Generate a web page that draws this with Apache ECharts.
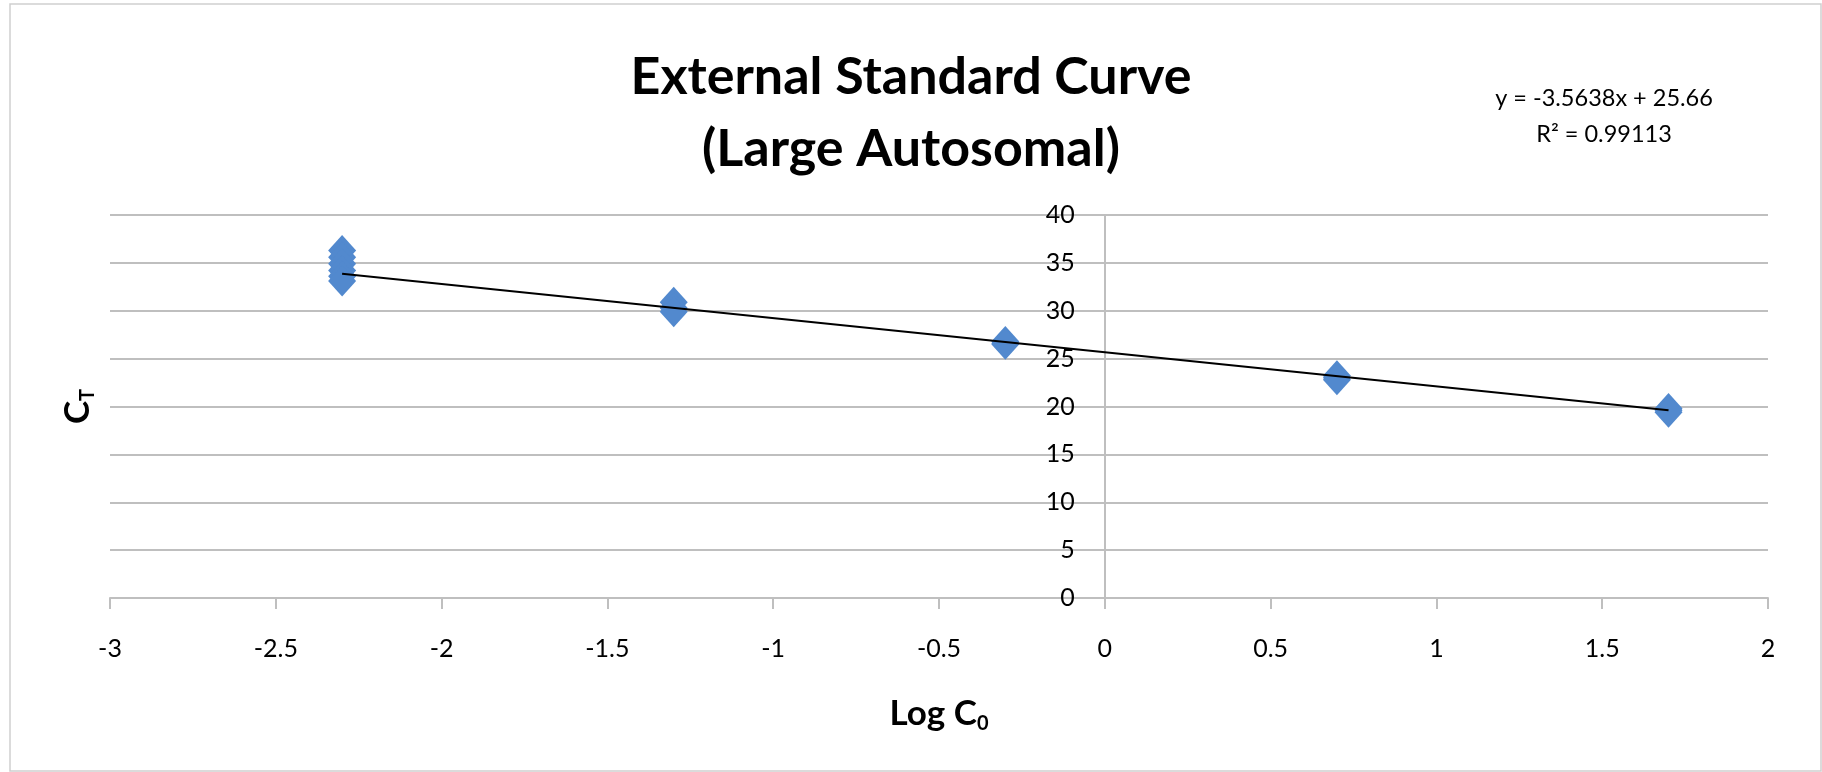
<!DOCTYPE html>
<html>
<head>
    <meta charset="utf-8">
    <title>External Standard Curve</title>
    <script src="https://cdn.jsdelivr.net/npm/echarts@6/dist/echarts.min.js"></script>
    <style>
        html, body { margin: 0; padding: 0; background: #fff; }
    </style>
</head>
<body>
<div id="main" style="width: 1822px;height:772px;"></div>
<script type="text/javascript">
    // log of starting concentration (one entry per replicate)
    var logC0 = [-2.3, -2.3, -2.3, -2.3, -2.3, -2.3,
                 -1.3, -1.3, -1.3,
                 -0.3, -0.3, -0.3,
                 0.7, 0.7, 0.7,
                 1.7, 1.7, 1.7];
    // threshold cycle values
    var ct = [36.3, 35.6, 34.9, 34.2, 33.6, 33.1,
              30.9, 30.3, 29.9,
              26.8, 26.6, 26.5,
              23.2, 23.0, 22.8,
              19.8, 19.6, 19.4];
    // fitted trend line shown on the chart
    var slope = -3.5638;
    var intercept = 25.66;
    var rSquared = 0.99113;
    var trendX = [-2.3, 1.7];

    var xTicks = { min: -3, max: 2, step: 0.5 };
    var yTicks = { min: 0, max: 40, step: 5 };

    var font = 'Lato, "Noto Sans", sans-serif';
    var gridGray = '#bfbfbf';

    var gridLeft = 110, gridRight = 54;
    var plotWidth = 1822 - gridLeft - gridRight;
    // y axis crosses at x = 0, Excel style
    var yAxisOffset = -plotWidth * (0 - xTicks.min) / (xTicks.max - xTicks.min);

    var points = logC0.map(function (x, i) { return [x, ct[i]]; });
    var trend = trendX.map(function (x) { return [x, slope * x + intercept]; });

    var myChart = echarts.init(document.getElementById('main'));
    var option = {
        backgroundColor: '#fff',
        animation: false,
        title: {
            text: 'External Standard Curve\n(Large Autosomal)',
            left: 'center',
            top: 36,
            textStyle: {
                fontFamily: font,
                fontWeight: 'bold',
                fontSize: 52,
                lineHeight: 72,
                color: '#000'
            }
        },
        graphic: [
            {
                type: 'rect',
                shape: { x: 10, y: 4, width: 1811, height: 767 },
                style: { fill: 'none', stroke: '#cfcfcf', lineWidth: 1.5 },
                silent: true
            },
            {
                type: 'text',
                x: 1604,
                y: 98,
                style: {
                    text: 'y = ' + slope + 'x + ' + intercept,
                    font: '23.5px ' + font,
                    fill: '#000',
                    align: 'center',
                    verticalAlign: 'middle'
                }
            },
            {
                type: 'text',
                x: 1604,
                y: 134,
                style: {
                    text: 'R² = ' + rSquared,
                    font: '23.5px ' + font,
                    fill: '#000',
                    align: 'center',
                    verticalAlign: 'middle'
                }
            }
        ],
        grid: {
            left: gridLeft,
            right: gridRight,
            top: 215,
            bottom: 174
        },
        xAxis: {
            type: 'value',
            min: xTicks.min,
            max: xTicks.max,
            interval: xTicks.step,
            name: '{a|Log C}{s|0}',
            nameLocation: 'middle',
            nameGap: 96,
            nameTextStyle: {
                rich: {
                    a: { fontFamily: font, fontWeight: 'bold', fontSize: 35, color: '#000' },
                    s: { fontFamily: font, fontWeight: 'bold', fontSize: 20, color: '#000', padding: [20, 0, 0, 0] }
                }
            },
            axisLine: { show: true, lineStyle: { color: gridGray, width: 2 } },
            axisTick: { show: true, length: 11, lineStyle: { color: gridGray, width: 2 } },
            axisLabel: { fontFamily: font, fontSize: 25, color: '#000', margin: 38 },
            splitLine: { show: false }
        },
        yAxis: [
            {
                type: 'value',
                min: yTicks.min,
                max: yTicks.max,
                interval: yTicks.step,
                offset: yAxisOffset,
                axisLine: { show: true, onZero: false, lineStyle: { color: gridGray, width: 2 } },
                axisTick: { show: true, length: 9, lineStyle: { color: gridGray, width: 2 } },
                axisLabel: { fontFamily: font, fontSize: 25, color: '#000', margin: 30 },
                splitLine: { show: true, lineStyle: { color: gridGray, width: 2 } }
            },
            {
                // carries only the axis title at the left edge
                type: 'value',
                position: 'left',
                min: yTicks.min,
                max: yTicks.max,
                interval: yTicks.step,
                name: '{c|C}{s|T}',
                nameLocation: 'middle',
                nameRotate: 90,
                nameGap: 12,
                nameTextStyle: {
                    rich: {
                        c: { fontFamily: font, fontWeight: 'bold', fontSize: 35, color: '#000' },
                        s: { fontFamily: font, fontWeight: 'bold', fontSize: 20, color: '#000', padding: [20, 0, 0, 0] }
                    }
                },
                axisLine: { show: false, onZero: false },
                axisTick: { show: false },
                axisLabel: { show: false },
                splitLine: { show: false }
            }
        ],
        series: [
            {
                name: 'Ct',
                type: 'scatter',
                symbol: 'diamond',
                symbolSize: [28, 31],
                itemStyle: { color: '#5289ce', opacity: 1 },
                data: points,
                z: 2
            },
            {
                name: 'Trend',
                type: 'line',
                symbol: 'none',
                lineStyle: { color: '#000', width: 2 },
                data: trend,
                z: 3
            }
        ]
    };
    myChart.setOption(option);
</script>
</body>
</html>
